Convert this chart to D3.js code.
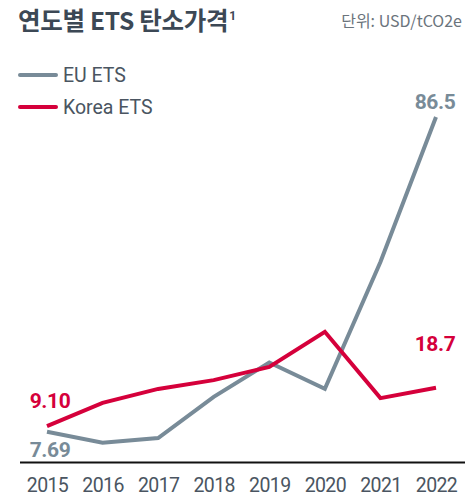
<!DOCTYPE html>
<html><head><meta charset="utf-8">
<script src="https://cdn.jsdelivr.net/npm/d3@7"></script>
<style>
html,body{margin:0;padding:0;background:#fff;}
svg{display:block;}
</style></head>
<body>
<svg id="c" width="471" height="501"></svg>
<script>
const years = ["2015","2016","2017","2018","2019","2020","2021","2022"];
const euETS = [7.69, 4.9, 6.1, 16.4, 25.0, 18.4, 50.2, 86.5];
const koreaETS = [9.10, 14.9, 18.4, 20.6, 23.9, 32.7, 16.1, 18.7];
const seriesNames = ["EU ETS", "Korea ETS"];
const title = "연도별 ETS 탄소가격";
const unitLabel = "단위: USD/tCO2e";

const grey = "#788b98", red = "#d5003b";
const svg = d3.select("#c");
const x = d3.scalePoint().domain(years).range([47, 436]);
const y = d3.scaleLinear().domain([0, 90]).range([462.4, 103]);

// title
const t = svg.append("text").attr("x", 18).attr("y", 30)
  .attr("font-family", "'Noto Sans CJK KR'").attr("font-weight", 700)
  .attr("font-size", 24.5).attr("fill", "#3c4855").attr("letter-spacing", -0.3)
  .text(title);
t.append("tspan").attr("dy", -10).attr("dx", 1).attr("font-size", 12).attr("font-family","Roboto").text("1");
svg.append("text").attr("x", 462).attr("y", 27).attr("text-anchor", "end")
  .attr("font-family", "'Noto Sans CJK KR'").attr("font-size", 16).attr("fill", "#6b747c")
  .text(unitLabel);

// legend
const leg = [{name: seriesNames[0], c: grey, yy: 75}, {name: seriesNames[1], c: red, yy: 107}];
leg.forEach(l => {
  svg.append("line").attr("x1", 20).attr("x2", 56).attr("y1", l.yy).attr("y2", l.yy)
    .attr("stroke", l.c).attr("stroke-width", 4).attr("stroke-linecap", "round");
  svg.append("text").attr("x", 63).attr("y", l.yy + 7)
    .attr("font-family", "Roboto").attr("font-size", 19.5).attr("fill", "#4a5561")
    .text(l.name);
});

// axis
const ax = svg.append("g").attr("transform", `translate(0,${y(0)})`)
  .call(d3.axisBottom(x).tickSize(0).tickPadding(16));
ax.select(".domain").remove();
ax.selectAll("text").attr("font-family", "Roboto").attr("font-size", 19.5)
  .attr("fill", "#4a5561").attr("letter-spacing", -0.6);
svg.append("line").attr("x1", 20).attr("x2", 465).attr("y1", y(0)).attr("y2", y(0))
  .attr("stroke", "#111").attr("stroke-width", 2);

const line = d3.line().x((d, i) => x(years[i])).y(d => y(d));
svg.append("path").datum(euETS).attr("d", line).attr("fill", "none")
  .attr("stroke", grey).attr("stroke-width", 4).attr("stroke-linejoin", "miter");
svg.append("path").datum(koreaETS).attr("d", line).attr("fill", "none")
  .attr("stroke", red).attr("stroke-width", 4).attr("stroke-linejoin", "miter");

// value labels
function lab(txt, cx, cy, col) {
  svg.append("text").attr("x", cx).attr("y", cy).attr("text-anchor", "middle")
    .attr("font-family", "Roboto").attr("font-weight", 700).attr("font-size", 21)
    .attr("fill", col).attr("letter-spacing", -0.4).text(txt);
}
lab(euETS[0].toFixed(2), x(years[0]) + 3, y(euETS[0]) + 25, grey);
lab(koreaETS[0].toFixed(2), x(years[0]) + 3, y(koreaETS[0]) - 18, red);
lab(euETS[7].toFixed(1), x(years[7]) - 1, y(euETS[7]) - 8, grey);
lab(koreaETS[7].toFixed(1), x(years[7]) - 1, y(koreaETS[7]) - 37, red);
</script>
</body></html>
